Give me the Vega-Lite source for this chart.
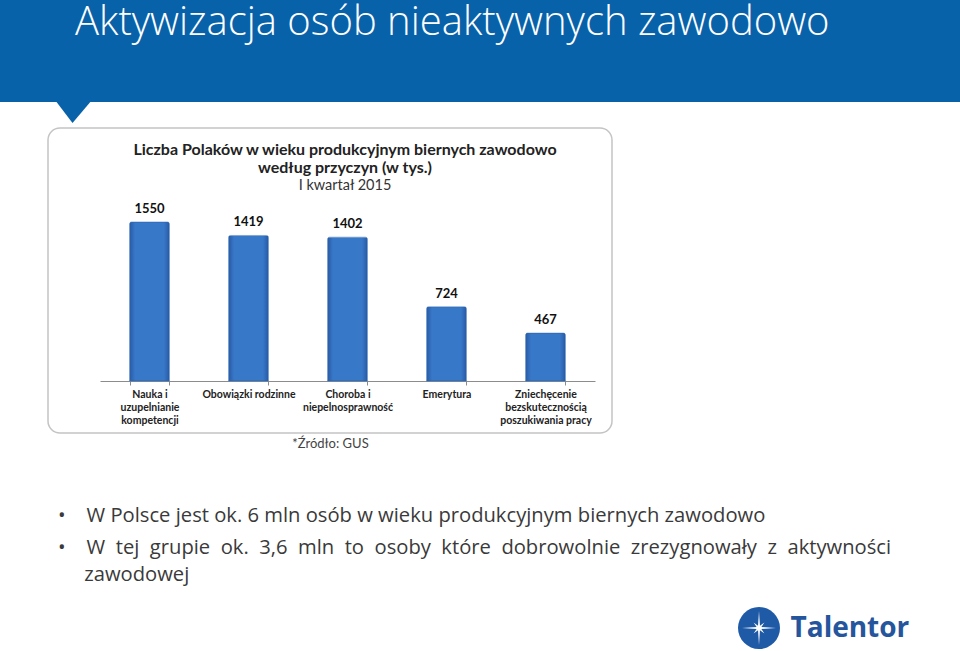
{
  "$schema": "https://vega.github.io/schema/vega-lite/v6.json",
  "background": "white",
  "padding": 0,
  "config": {"view": {"stroke": null}},
  "datasets": {
    "heading": [{"heading": "Aktywizacja osób nieaktywnych zawodowo"}],
    "bars": [
      {"category": "Nauka i uzupelnianie kompetencji", "value": 1550},
      {"category": "Obowiązki rodzinne", "value": 1419},
      {"category": "Choroba i niepelnosprawność", "value": 1402},
      {"category": "Emerytura", "value": 724},
      {"category": "Zniechęcenie bezskutecznością poszukiwania pracy", "value": 467}
    ],
    "brand": [{"brand": "Talentor"}],
    "empty": []
  },
  "spacing": 4,
  "vconcat": [
    {
      "data": {"name": "heading"},
      "width": 960,
      "height": 102,
      "view": {"fill": "#0862aa", "stroke": null},
      "title": {
        "text": "Aktywizacja osób nieaktywnych zawodowo",
        "orient": "top",
        "anchor": "start",
        "frame": "group",
        "baseline": "top",
        "dx": 75,
        "offset": -43,
        "font": "Open Sans",
        "fontWeight": 300,
        "fontSize": 40,
        "color": "white"
      },
      "layer": [
        {
          "mark": {"type": "rect", "fill": "#0862aa"},
          "encoding": {}
        },
        {
          "mark": {
            "type": "point",
            "shape": "M-8.5,0.98L-7.76,0.98L-8.15,1.44Z",
            "size": 10000,
            "filled": true,
            "fill": "#0862aa",
            "opacity": 1,
            "strokeWidth": 0
          },
          "encoding": {}
        }
      ]
    },
    {
      "spacing": 54,
      "vconcat": [
        {
          "bounds": "flush",
          "spacing": 47,
          "hconcat": [
            {
              "data": {"name": "empty"},
              "width": 1,
              "height": 1,
              "mark": "rect",
              "encoding": {}
            },
            {
              "data": {"name": "bars"},
              "width": 564,
              "height": 305,
              "view": {"stroke": "#c4c4c4", "strokeWidth": 1.5, "cornerRadius": 12, "fill": "white"},
              "title": {
                "text": ["Liczba Polaków w wieku produkcyjnym biernych zawodowo", "według przyczyn (w tys.)"],
                "subtitle": "I kwartał 2015",
                "orient": "top",
                "anchor": "middle",
                "frame": "group",
                "baseline": "top",
                "dx": 15,
                "offset": -64,
                "font": "Lato",
                "fontWeight": "bold",
                "fontSize": 16,
                "lineHeight": 18,
                "color": "#222222",
                "subtitleFont": "Lato",
                "subtitleFontSize": 14.5,
                "subtitleColor": "#333333",
                "subtitlePadding": 3
              },
              "encoding": {
                "x": {
                  "field": "category",
                  "type": "nominal",
                  "sort": null,
                  "scale": {"range": [52, 547], "paddingInner": 0.596, "paddingOuter": 0.298},
                  "axis": {
                    "orient": "bottom",
                    "offset": -52,
                    "grid": false,
                    "domainColor": "#8c8c8c",
                    "domainWidth": 1,
                    "ticks": true,
                    "tickBand": "extent",
                    "tickColor": "#8c8c8c",
                    "tickSize": 4,
                    "labelAngle": 0,
                    "labelFont": "Lato",
                    "labelFontWeight": "bold",
                    "labelFontSize": 10.5,
                    "labelColor": "#222222",
                    "labelPadding": 4,
                    "labelLineHeight": 13,
                    "labelBaseline": "top",
                    "labelLimit": 200,
                    "labelExpr": "datum.label == 'Nauka i uzupelnianie kompetencji' ? ['Nauka i', 'uzupelnianie', 'kompetencji'] : datum.label == 'Choroba i niepelnosprawność' ? ['Choroba i', 'niepelnosprawność'] : datum.label == 'Zniechęcenie bezskutecznością poszukiwania pracy' ? ['Zniechęcenie', 'bezskutecznością', 'poszukiwania pracy'] : datum.label",
                    "title": "*Źródło: GUS",
                    "titleFont": "Lato",
                    "titleFontWeight": "normal",
                    "titleFontSize": 13,
                    "titleColor": "#444444",
                    "titlePadding": 12,
                    "titleX": 282
                  }
                },
                "y": {
                  "field": "value",
                  "type": "quantitative",
                  "scale": {"domain": [0, 1550], "range": [253, 94], "nice": false},
                  "axis": null
                }
              },
              "layer": [
                {
                  "mark": {
                    "type": "bar",
                    "fill": {
                      "gradient": "linear",
                      "x1": 0, "x2": 1, "y1": 0, "y2": 0,
                      "stops": [
                        {"offset": 0, "color": "#285aa3"},
                        {"offset": 0.14, "color": "#3878c9"},
                        {"offset": 0.86, "color": "#3878c9"},
                        {"offset": 1, "color": "#285aa3"}
                      ]
                    },
                    "stroke": "#2f66b0",
                    "strokeWidth": 0.5,
                    "cornerRadiusTopLeft": 2,
                    "cornerRadiusTopRight": 2
                  }
                },
                {
                  "mark": {
                    "type": "text",
                    "baseline": "bottom",
                    "dy": -6,
                    "font": "Lato",
                    "fontWeight": "bold",
                    "fontSize": 13,
                    "color": "#111111"
                  },
                  "encoding": {
                    "text": {"field": "value", "type": "quantitative", "format": "d"}
                  }
                }
              ]
            }
          ]
        },
        {
          "bounds": "flush",
          "spacing": 737,
          "hconcat": [
            {
              "data": {"name": "empty"},
              "width": 1,
              "height": 1,
              "mark": "rect",
              "encoding": {}
            },
            {
              "data": {"name": "brand"},
              "width": 42,
              "height": 42,
              "title": {
                "text": "•\u00a0\u00a0\u00a0\u00a0W Polsce jest ok. 6 mln osób w wieku produkcyjnym biernych zawodowo",
                "subtitle": ["•\u00a0\u00a0\u00a0\u00a0W \u00a0tej \u00a0grupie \u00a0ok. \u00a03,6 \u00a0mln \u00a0to \u00a0osoby \u00a0które \u00a0dobrowolnie \u00a0zrezygnowały \u00a0z \u00a0aktywności", "\u200b\u00a0\u00a0\u00a0\u00a0\u00a0zawodowej"],
                "orient": "top",
                "anchor": "start",
                "frame": "group",
                "baseline": "top",
                "dx": -680,
                "offset": 22,
                "font": "Open Sans",
                "fontWeight": "normal",
                "fontSize": 20.2,
                "color": "#3a3a3a",
                "subtitleFont": "Open Sans",
                "subtitleFontSize": 20.2,
                "subtitleColor": "#3a3a3a",
                "subtitleLineHeight": 26.5,
                "subtitlePadding": 12
              },
              "encoding": {
                "x": {"field": "brand", "type": "nominal", "axis": null},
                "y": {
                  "field": "brand",
                  "type": "nominal",
                  "axis": {
                    "orient": "right",
                    "ticks": false,
                    "domain": false,
                    "grid": false,
                    "title": null,
                    "labelFont": "Open Sans",
                    "labelFontWeight": "bold",
                    "labelFontSize": 28,
                    "labelColor": "#25559c",
                    "labelPadding": 10,
                    "labelAlign": "left",
                    "labelBaseline": "middle",
                    "labelLimit": 300
                  }
                }
              },
              "layer": [
                {
                  "mark": {"type": "point", "shape": "circle", "filled": true, "fill": "#1f5aa6", "opacity": 1, "size": 1764, "strokeWidth": 0}
                },
                {
                  "mark": {
                    "type": "point",
                    "shape": "M0,-1L0.057,-0.139L0.318,-0.318L0.139,-0.057L1,0L0.139,0.057L0.318,0.318L0.057,0.139L0,1L-0.057,0.139L-0.318,0.318L-0.139,0.057L-1,0L-0.139,-0.057L-0.318,-0.318L-0.057,-0.139Z",
                    "filled": true,
                    "fill": "white",
                    "opacity": 1,
                    "size": 1156,
                    "strokeWidth": 0
                  }
                }
              ]
            }
          ]
        }
      ]
    }
  ]
}
